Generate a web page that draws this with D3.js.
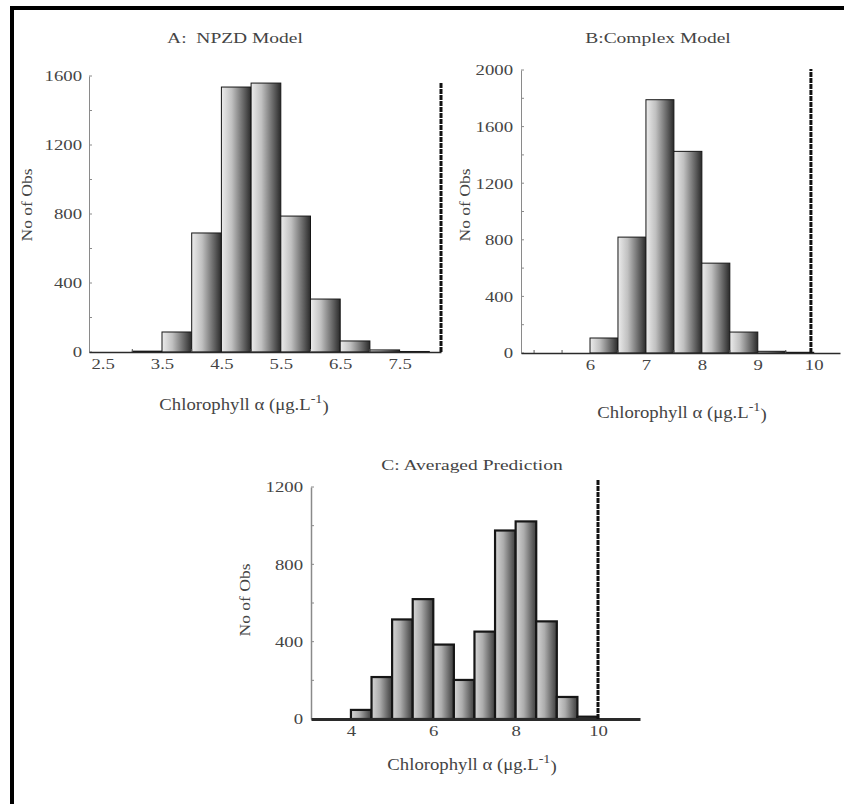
<!DOCTYPE html>
<html>
<head>
<meta charset="utf-8">
<script src="https://cdn.jsdelivr.net/npm/d3@7"></script>
<style>
  body { margin: 0; background: #fff; }
  text { font-family: "Liberation Serif", "DejaVu Serif", serif; fill: #444; }
</style>
</head>
<body>
<div id="chart"></div>
<script>
// histogram counts, bins of 0.5 starting at the given edge
var npzdStart = 3.0;
var npzdCounts = [5, 116, 690, 1536, 1559, 788, 307, 64, 12, 3];
var npzdXTicks = [2.5, 3.5, 4.5, 5.5, 6.5, 7.5];
var npzdYTicks = [0, 400, 800, 1200, 1600];

var complexStart = 6.0;
var complexCounts = [106, 819, 1790, 1425, 635, 148, 12, 5];
var complexXTicks = [6, 7, 8, 9, 10];
var complexYTicks = [0, 400, 800, 1200, 1600, 2000];

var avgStart = 4.0;
var avgCounts = [47, 217, 515, 620, 385, 202, 452, 975, 1022, 505, 114, 12];
var avgXTicks = [4, 6, 8, 10];
var avgYTicks = [0, 400, 800, 1200];

var binWidth = 0.5;

var svg = d3.select("#chart").append("svg")
    .attr("width", 844)
    .attr("height", 804);

// frame (left and top only)
svg.append("rect").attr("x", 10).attr("y", 6).attr("width", 834).attr("height", 4).attr("fill", "#000");
svg.append("rect").attr("x", 10).attr("y", 6).attr("width", 4).attr("height", 798).attr("fill", "#000");

var defs = svg.append("defs");
function grad(id, stops) {
    var g = defs.append("linearGradient").attr("id", id)
        .attr("x1", "0%").attr("x2", "100%").attr("y1", "0%").attr("y2", "0%");
    stops.forEach(function(s) {
        g.append("stop").attr("offset", s[0]).attr("stop-color", s[1]);
    });
}
grad("barAB", [["0%", "#ececec"], ["35%", "#c0c0c0"], ["80%", "#595959"], ["100%", "#2a2a2a"]]);
grad("barC", [["0%", "#d6d6d6"], ["40%", "#adadad"], ["85%", "#585858"], ["100%", "#404040"]]);

function stretchText(sel, x, y, str, size, sx, anchor) {
    return sel.append("text")
        .attr("transform", "translate(" + x + "," + y + ") scale(" + sx + ",1)")
        .attr("text-anchor", anchor || "middle")
        .style("font-size", size + "px")
        .style("white-space", "pre")
        .text(str);
}

function xLabel(x, y) {
    var t = svg.append("text")
        .attr("transform", "translate(" + x + "," + y + ") scale(1.17,1)")
        .attr("text-anchor", "middle")
        .style("font-size", "16px");
    t.append("tspan").text("Chlorophyll \u03b1 (\u03bcg.L");
    t.append("tspan").attr("dy", -7).style("font-size", "12px").text("-1");
    t.append("tspan").attr("dy", 9).text(")");
}

function yLabel(x, y) {
    svg.append("text")
        .attr("transform", "translate(" + x + "," + y + ") rotate(-90) scale(1.35,1.2)")
        .attr("text-anchor", "middle")
        .style("font-size", "13px")
        .text("No of Obs");
}

function panel(cfg) {
    var x = d3.scaleLinear().domain(cfg.xDomain).range(cfg.xRange);
    var y = d3.scaleLinear().domain(cfg.yDomain).range(cfg.yRange);
    var g = svg.append("g");

    var bins = cfg.counts.map(function(c, i) {
        var x0 = cfg.start + i * binWidth;
        return { x0: x0, x1: x0 + binWidth, n: c };
    });

    g.selectAll(".bar").data(bins).enter().append("rect")
        .attr("x", function(d) { return x(d.x0); })
        .attr("width", function(d) { return x(d.x1) - x(d.x0); })
        .attr("y", function(d) { return y(d.n); })
        .attr("height", function(d) { return y(0) - y(d.n); })
        .attr("fill", "url(#" + cfg.fill + ")")
        .attr("stroke", "#161616")
        .attr("stroke-width", cfg.barStroke);

    // y axis with minor ticks
    var ya = g.append("g").attr("transform", "translate(" + cfg.xRange[0] + ",0)")
        .call(d3.axisLeft(y).tickValues(cfg.yTicks).tickSize(0).tickPadding(cfg.yPad).tickFormat(d3.format("d")));
    ya.select(".domain").attr("stroke", "#8a8a8a").attr("stroke-width", cfg.yAxisW);
    ya.selectAll("text").style("font-size", cfg.tickSize + "px").style("font-family", "Liberation Serif")
        .attr("fill", "#444")
        .attr("transform", "scale(1.25,1)").attr("x", -cfg.yPad / 1.25);
    var step = cfg.yTicks[1] - cfg.yTicks[0];
    var yMinor = d3.range(step / 2, cfg.yDomain[1], step);
    g.selectAll(".ym").data(yMinor).enter().append("line")
        .attr("x1", cfg.xRange[0]).attr("x2", cfg.xRange[0] + 3)
        .attr("y1", function(d) { return y(d); }).attr("y2", function(d) { return y(d); })
        .attr("stroke", "#8a8a8a");
    g.selectAll(".yM").data(cfg.yTicks).enter().append("line")
        .attr("x1", cfg.xRange[0]).attr("x2", cfg.xRange[0] + 3)
        .attr("y1", function(d) { return y(d); }).attr("y2", function(d) { return y(d); })
        .attr("stroke", "#8a8a8a");

    // x axis
    var xa = g.append("g").attr("transform", "translate(0," + cfg.yRange[0] + ")")
        .call(d3.axisBottom(x).tickValues(cfg.xTicks).tickSize(0).tickPadding(cfg.xPad).tickFormat(function(d) { return d; }));
    xa.select(".domain").attr("stroke", "#2a2a2a").attr("stroke-width", cfg.xAxisW);
    xa.selectAll("text").style("font-size", cfg.tickSize + "px").style("font-family", "Liberation Serif")
        .attr("fill", "#444")
        .attr("transform", "scale(1.25,1)");
    g.selectAll(".xm").data(cfg.xMinor).enter().append("line")
        .attr("x1", function(d) { return x(d); }).attr("x2", function(d) { return x(d); })
        .attr("y1", cfg.yRange[0]).attr("y2", cfg.yRange[0] - 3)
        .attr("stroke", "#555");

    // dashed marker line
    g.append("line")
        .attr("x1", x(cfg.marker)).attr("x2", x(cfg.marker))
        .attr("y1", y(0)).attr("y2", cfg.markerTop)
        .attr("stroke", "#111").attr("stroke-width", 3)
        .attr("stroke-dasharray", "5,1");

    stretchText(svg, cfg.titleX, cfg.titleY, cfg.title, 15, 1.3);
    xLabel(cfg.xLabX, cfg.xLabY);
    yLabel(cfg.yLabX, cfg.yLabY);
}

panel({
    title: "A:  NPZD Model", titleX: 235, titleY: 43,
    start: npzdStart, counts: npzdCounts, xTicks: npzdXTicks, yTicks: npzdYTicks,
    xMinor: [3.0, 4.0, 5.0, 6.0, 7.0],
    xDomain: [2.271, 8.197], xRange: [89, 441],
    yDomain: [0, 1600], yRange: [352, 76],
    fill: "barAB", barStroke: 1, yAxisW: 1, xAxisW: 1.5, tickSize: 15, yPad: 7, xPad: 6,
    marker: 8.197, markerTop: 83,
    xLabX: 244, xLabY: 410, yLabX: 32, yLabY: 205
});

panel({
    title: "B:Complex Model", titleX: 658, titleY: 43,
    start: complexStart, counts: complexCounts, xTicks: complexXTicks, yTicks: complexYTicks,
    xMinor: [5, 5.5, 6.5, 7.5, 8.5, 9.5],
    xDomain: [4.766, 10.47], xRange: [521, 840],
    yDomain: [0, 2000], yRange: [353, 70],
    fill: "barAB", barStroke: 1, yAxisW: 1, xAxisW: 1.5, tickSize: 15, yPad: 8, xPad: 6,
    marker: 9.95, markerTop: 69,
    xLabX: 682, xLabY: 418, yLabX: 470, yLabY: 205
});

panel({
    title: "C: Averaged Prediction", titleX: 472, titleY: 470,
    start: avgStart, counts: avgCounts, xTicks: avgXTicks, yTicks: avgYTicks,
    xMinor: [],
    xDomain: [3.03, 11.02], xRange: [311, 640],
    yDomain: [0, 1200], yRange: [719, 487],
    fill: "barC", barStroke: 2.2, yAxisW: 1.5, xAxisW: 3, tickSize: 15, yPad: 8, xPad: 6,
    marker: 10, markerTop: 480,
    xLabX: 472, xLabY: 770, yLabX: 250, yLabY: 600
});
</script>
</body>
</html>
